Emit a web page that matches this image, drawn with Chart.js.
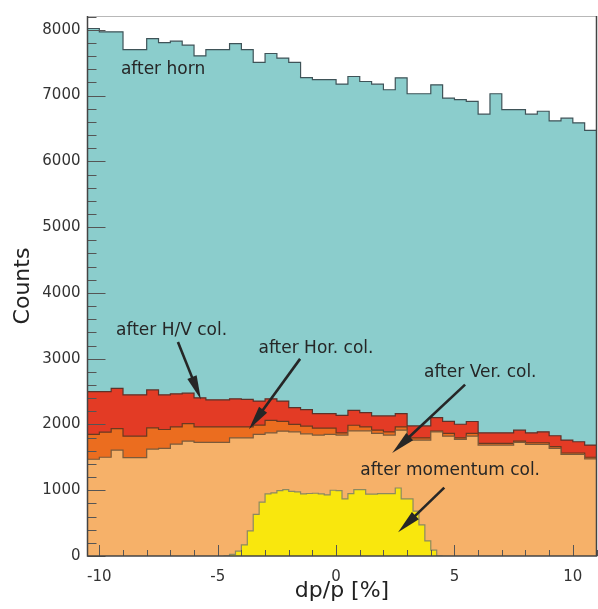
<!DOCTYPE html>
<html>
<head>
<meta charset="utf-8">
<title>dp/p after collimators</title>
<script src="https://cdn.jsdelivr.net/npm/chart.js@4.4.1/dist/chart.umd.min.js"></script>
<style>
  html, body { margin: 0; padding: 0; background: #fff; }
  #chart { display: block; }
</style>
</head>
<body>
<canvas id="chart" width="598" height="609"></canvas>
<script>
// bin edges (dp/p in %) shared by the four wide histograms
const binEdges = [
  -10.5, -10, -9.5, -9, -8.5, -8, -7.5, -7, -6.5, -6, -5.5, -5, -4.5, -4, -3.5,
  -3, -2.5, -2, -1.5, -1, -0.5, 0, 0.5, 1, 1.5, 2, 2.5, 3, 3.5, 4, 4.5,
  5, 5.5, 6, 6.5, 7, 7.5, 8, 8.5, 9, 9.5, 10, 10.5, 11
];

const afterHorn = [
  8020, 7970, 7970, 7700, 7700, 7866, 7806, 7827, 7766, 7605,
  7700, 7700, 7791, 7700, 7505, 7640, 7570, 7505, 7274, 7244,
  7244, 7175, 7290, 7214, 7174, 7089, 7270, 7028, 7028, 7164,
  6962, 6938, 6913, 6717, 7028, 6788, 6788, 6717, 6762, 6616,
  6657, 6586, 6471
];

const afterHV = [
  2500, 2500, 2550, 2450, 2450, 2525, 2450, 2465, 2475, 2405,
  2375, 2375, 2390, 2380, 2355, 2390, 2355, 2255, 2225, 2164,
  2164, 2139, 2214, 2179, 2129, 2129, 2164, 1978, 1978, 2104,
  2048, 2003, 2045, 1873, 1873, 1873, 1913, 1873, 1888, 1828,
  1762, 1737, 1687
];

const afterHor = [
  1848, 1883, 1938, 1822, 1822, 1948, 1923, 1963, 2013, 1963,
  1963, 1963, 1963, 1963, 1990, 2063, 2048, 2000, 1975, 1945,
  1945, 1873, 1988, 1963, 1913, 1888, 1963, 1797, 1797, 1900,
  1863, 1797, 1863, 1712, 1712, 1712, 1747, 1722, 1722, 1662,
  1566, 1566, 1501
];

const afterVer = [
  1471, 1501, 1611, 1496, 1496, 1626, 1636, 1702, 1747, 1727,
  1727, 1727, 1797, 1797, 1848, 1873, 1898, 1888, 1858, 1838,
  1850, 1838, 1903, 1903, 1863, 1838, 1913, 1762, 1762, 1888,
  1822, 1772, 1822, 1687, 1687, 1687, 1727, 1697, 1697, 1636,
  1546, 1546, 1476
];

// the momentum-collimated histogram has finer bins
const momentumEdges = [
  -4.75, -4.5, -4.25, -4, -3.75, -3.5, -3.25, -3, -2.75, -2.5, -2.25, -2, -1.75,
  -1.5, -1.25, -1, -0.75, -0.5, -0.25, 0, 0.25, 0.5, 0.75, 1, 1.25, 1.5, 1.75,
  2, 2.25, 2.5, 2.75, 3, 3.25, 3.5, 3.75, 4, 4.25, 4.5
];

const afterMomentum = [
  0, 25, 75, 170, 381, 632, 818, 944, 959, 995, 1009, 983, 974,
  944, 950, 954, 944, 929, 1000, 994, 869, 949, 1009, 1009, 941, 941, 949,
  949, 949, 1034, 869, 869, 682, 472, 231, 90, 0
];

const xTicks = [-10, -5, 0, 5, 10];
const yTicks = [0, 1000, 2000, 3000, 4000, 5000, 6000, 7000, 8000];

// annotations, placed in data units
const noteTexts = ['after horn', 'after H/V col.', 'after Hor. col.', 'after Ver. col.', 'after momentum col.'];
const noteX = [-7.31, -6.95, -0.85, 6.09, 4.82];
const noteY = [7390, 3430, 3150, 2790, 1300];
const arrowX0 = [null, -6.68, -1.52, 5.45, 4.57];
const arrowY0 = [null, 3253, 2997, 2605, 1039];
const arrowX1 = [null, -5.71, -3.68, 2.37, 2.62];
const arrowY1 = [null, 2380, 1928, 1566, 361];

const colors = {
  horn: '#8bcdcc',
  hv: '#e33b25',
  hor: '#eb6d1f',
  ver: '#f6b169',
  mom: '#f9e70d'
};

function stepPoints(edges, counts) {
  return edges.map((x, i) => ({ x: x, y: counts[Math.min(i, counts.length - 1)] }));
}

function histo(label, edges, counts, fillColor, lineColor, order) {
  return {
    label: label,
    data: stepPoints(edges, counts),
    stepped: true,
    fill: 'origin',
    backgroundColor: fillColor,
    borderColor: lineColor,
    borderWidth: 1.2,
    pointRadius: 0,
    order: order
  };
}

function drawArrow(ctx, x0, y0, x1, y1) {
  const a = Math.atan2(y1 - y0, x1 - x0);
  const len = 24, half = 5;
  const bx = x1 - len * Math.cos(a), by = y1 - len * Math.sin(a);
  ctx.lineWidth = 2.6;
  ctx.beginPath();
  ctx.moveTo(x0, y0);
  ctx.lineTo(bx + 4 * Math.cos(a), by + 4 * Math.sin(a));
  ctx.stroke();
  ctx.beginPath();
  ctx.moveTo(x1, y1);
  ctx.lineTo(bx + half * Math.sin(a), by - half * Math.cos(a));
  ctx.lineTo(bx - half * Math.sin(a), by + half * Math.cos(a));
  ctx.closePath();
  ctx.fill();
}

// frame, inner tick marks and the labelled arrows
const decorations = {
  id: 'decorations',
  afterDatasetsDraw(chart) {
    const ctx = chart.ctx;
    const area = chart.chartArea;
    const xs = chart.scales.x, ys = chart.scales.y;
    ctx.save();

    ctx.strokeStyle = '#555';
    ctx.lineWidth = 1;
    for (let v = 0; v <= 8200; v += 200) {
      const py = Math.round(ys.getPixelForValue(v)) + 0.5;
      const len = v % 1000 === 0 ? 18 : 9;
      ctx.beginPath();
      ctx.moveTo(area.left, py);
      ctx.lineTo(area.left + len, py);
      ctx.stroke();
    }
    for (let v = -10; v <= 11; v += 1) {
      const px = Math.round(xs.getPixelForValue(v)) + 0.5;
      const len = v % 5 === 0 ? 11 : 6;
      ctx.beginPath();
      ctx.moveTo(px, area.bottom);
      ctx.lineTo(px, area.bottom - len);
      ctx.stroke();
    }

    ctx.strokeStyle = '#b8b8b8';
    ctx.beginPath();
    ctx.moveTo(area.left, area.top + 0.5);
    ctx.lineTo(area.right, area.top + 0.5);
    ctx.stroke();
    ctx.strokeStyle = '#444';
    ctx.lineWidth = 1.5;
    ctx.beginPath();
    ctx.moveTo(area.left, area.top);
    ctx.lineTo(area.left, area.bottom);
    ctx.lineTo(area.right, area.bottom);
    ctx.lineTo(area.right, area.top);
    ctx.stroke();

    ctx.fillStyle = '#262626';
    ctx.strokeStyle = '#262626';
    ctx.font = '17px "DejaVu Sans"';
    ctx.textAlign = 'center';
    ctx.textBaseline = 'middle';
    noteTexts.forEach((t, i) => {
      ctx.fillText(t, xs.getPixelForValue(noteX[i]), ys.getPixelForValue(noteY[i]));
      if (arrowX0[i] !== null) {
        drawArrow(ctx,
          xs.getPixelForValue(arrowX0[i]), ys.getPixelForValue(arrowY0[i]),
          xs.getPixelForValue(arrowX1[i]), ys.getPixelForValue(arrowY1[i]));
      }
    });
    ctx.restore();
  }
};

Chart.defaults.font.family = '"DejaVu Sans", sans-serif';

new Chart(document.getElementById('chart'), {
  type: 'line',
  data: {
    datasets: [
      histo('after horn', binEdges, afterHorn, colors.horn, '#3f5358', 5),
      histo('after H/V col.', binEdges, afterHV, colors.hv, '#5e3128', 4),
      histo('after Hor. col.', binEdges, afterHor, colors.hor, '#6a3a20', 3),
      histo('after Ver. col.', binEdges, afterVer, colors.ver, '#7a5a3a', 2),
      histo('after momentum col.', momentumEdges, afterMomentum, colors.mom, '#8c8a60', 1)
    ]
  },
  options: {
    responsive: false,
    animation: false,
    devicePixelRatio: 1,
    layout: { padding: { top: 11, right: 1.5, left: 0, bottom: 0 } },
    plugins: {
      legend: { display: false },
      tooltip: { enabled: false }
    },
    scales: {
      x: {
        type: 'linear',
        min: -10.5,
        max: 11,
        grid: { display: false, drawTicks: false },
        border: { display: false },
        afterBuildTicks(scale) { scale.ticks = xTicks.map(v => ({ value: v })); },
        afterFit(scale) { scale.height = 53; },
        ticks: { color: '#333', font: { size: 15 }, padding: 12, maxRotation: 0, callback: v => String(v) },
        title: { display: true, text: 'dp/p [%]', color: '#222', font: { size: 22 }, padding: { bottom: 5 } }
      },
      y: {
        min: 0,
        max: 8210,
        grid: { display: false, drawTicks: false },
        border: { display: false },
        afterBuildTicks(scale) { scale.ticks = yTicks.map(v => ({ value: v })); },
        afterFit(scale) { scale.width = 87.5; },
        ticks: { color: '#333', font: { size: 15 }, padding: 7, callback: v => String(v) },
        title: { display: true, text: 'Counts', color: '#222', font: { size: 22 }, padding: { top: 10 } }
      }
    }
  },
  plugins: [decorations]
});
</script>
</body>
</html>
